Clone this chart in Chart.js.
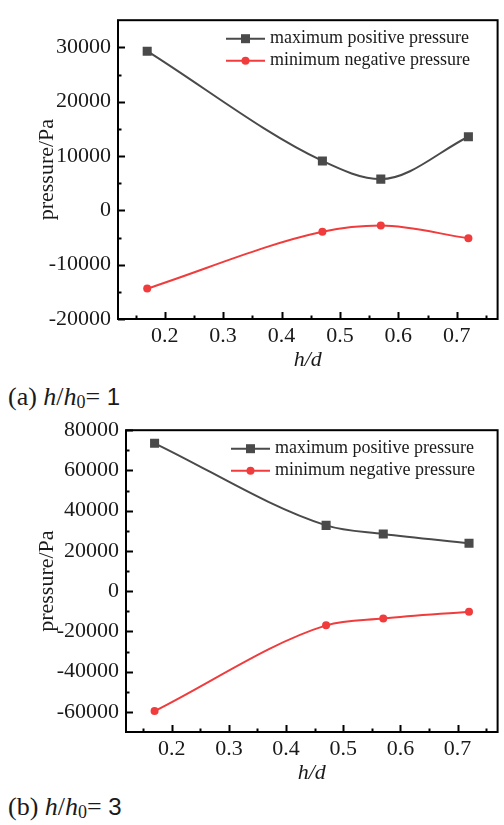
<!DOCTYPE html>
<html lang="en">
<head>
<meta charset="UTF-8">
<script src="https://cdn.jsdelivr.net/npm/chart.js"></script>
<title>pressure vs h/d</title>
<style>
    body { margin: 0; background: #fff; }
    #pagina { position: relative; width: 504px; height: 825px; overflow: hidden; }
    .caixa { position: absolute; left: 0; width: 504px; }
    .legenda_fig { position: absolute; left: 8px; font-family: "Liberation Serif", "Times New Roman", serif; font-size: 26px; line-height: 1; white-space: nowrap; color: #1a1a1a; }
    .legenda_fig i { font-style: italic; }
    .legenda_fig sub { font-size: 18px; vertical-align: -3px; }
    .legenda_fig .num { font-family: "Liberation Sans", Arial, sans-serif; font-size: 24px; }
</style>
</head>
<body>
<div id="pagina">
    <div class="caixa" style="top:0;height:373px"><canvas id="grafico1"></canvas></div>
    <div class="legenda_fig" style="top:384px">(a) <i>h</i>/<i>h</i><sub>0</sub>= <span class="num">1</span></div>
    <div class="caixa" style="top:410px;height:376px"><canvas id="grafico2"></canvas></div>
    <div class="legenda_fig" style="top:794px">(b) <i>h</i>/<i>h</i><sub>0</sub>= <span class="num">3</span></div>
</div>

<script>
    // h/d values (same for both panels)
    var hd = [0.17, 0.47, 0.57, 0.72];
    var xTicks = [0.2, 0.3, 0.4, 0.5, 0.6, 0.7];

    // panel (a) h/h0 = 1
    var maxPos1 = [29300, 9100, 5750, 13550];
    var minNeg1 = [-14400, -3950, -2800, -5150];
    var yTicks1 = [-20000, -10000, 0, 10000, 20000, 30000];

    // panel (b) h/h0 = 3
    var maxPos2 = [73500, 32700, 28400, 23800];
    var minNeg2 = [-59600, -17000, -13600, -10200];
    var yTicks2 = [-60000, -40000, -20000, 0, 20000, 40000, 60000, 80000];

    var nomes = ['maximum positive pressure', 'minimum negative pressure'];
    var cores = ['#4a4a4a', '#f03c3c'];
    var marcadores = ['rect', 'circle'];

    var serif = '"Liberation Serif", "Times New Roman", serif';

    // frame, inward ticks and legend drawn on top of the chart
    var moldura = {
        id: 'moldura',
        afterDraw: function (chart, args, opts) {
            var ctx = chart.ctx;
            var a = chart.chartArea;
            var x = chart.scales.x;
            var y = chart.scales.y;
            ctx.save();
            ctx.strokeStyle = '#000';
            ctx.lineWidth = 2;

            // x ticks (inward, from the bottom axis)
            for (var v = opts.xMin; v <= opts.xMax + 1e-9; v += opts.xMinor) {
                var px = Math.round(x.getPixelForValue(v)) + 0.5;
                var major = Math.abs(v / opts.xMajor - Math.round(v / opts.xMajor)) < 1e-6;
                ctx.beginPath();
                ctx.moveTo(px, a.bottom);
                ctx.lineTo(px, a.bottom - (major ? 7 : 3.5));
                ctx.stroke();
            }
            // y ticks (inward, from the left axis)
            for (var w = opts.yMin; w <= opts.yMax + 1e-9; w += opts.yMinor) {
                var py = Math.round(y.getPixelForValue(w)) + 0.5;
                var majorY = Math.abs(w / opts.yMajor - Math.round(w / opts.yMajor)) < 1e-6;
                ctx.beginPath();
                ctx.moveTo(a.left, py);
                ctx.lineTo(a.left + (majorY ? 7 : 3.5), py);
                ctx.stroke();
            }
            ctx.strokeRect(a.left, a.top, a.right - a.left, a.bottom - a.top);

            // legend
            ctx.font = '18px ' + serif;
            ctx.textBaseline = 'middle';
            ctx.textAlign = 'left';
            chart.data.datasets.forEach(function (ds, i) {
                var ly = a.top + opts.legTop + i * 22;
                var lx = a.left + opts.legLeft;
                ctx.strokeStyle = ds.borderColor;
                ctx.lineWidth = 2;
                ctx.beginPath();
                ctx.moveTo(lx, ly);
                ctx.lineTo(lx + 39, ly);
                ctx.stroke();
                ctx.fillStyle = ds.pointBackgroundColor;
                if (ds.pointStyle === 'rect') {
                    ctx.fillRect(lx + 19.5 - 4.5, ly - 4.5, 9, 9);
                } else {
                    ctx.beginPath();
                    ctx.arc(lx + 19.5, ly, 4, 0, Math.PI * 2);
                    ctx.fill();
                }
                ctx.fillStyle = '#1a1a1a';
                ctx.fillText(ds.label, lx + 44, ly);
            });
            ctx.restore();
        }
    };

    function serie(i, valores) {
        return {
            label: nomes[i],
            data: hd.map(function (h, k) { return { x: h, y: valores[k] }; }),
            borderColor: cores[i],
            backgroundColor: cores[i],
            pointBackgroundColor: cores[i],
            pointBorderColor: cores[i],
            pointStyle: marcadores[i],
            pointRadius: i == 0 ? 6.4 : 4,
            pointBorderWidth: 0,
            borderWidth: 2,
            cubicInterpolationMode: 'monotone'
        };
    }

    function criarGrafico(id, pos, neg, yTicks, cfg) {
        return new Chart(document.getElementById(id), {
            type: 'scatter',
            data: { datasets: [serie(0, pos), serie(1, neg)] },
            options: {
                responsive: true,
                maintainAspectRatio: false,
                animation: false,
                showLine: true,
                layout: { padding: { top: cfg.padTop, right: 2, left: 0, bottom: 0 } },
                plugins: {
                    legend: { display: false },
                    tooltip: { enabled: false },
                    moldura: cfg.moldura
                },
                scales: {
                    x: {
                        type: 'linear',
                        min: 0.12, max: 0.77,
                        afterBuildTicks: function (s) {
                            s.ticks = xTicks.map(function (v) { return { value: v }; });
                        },
                        afterFit: function (s) { s.height = cfg.xAltura; },
                        grid: { display: false, drawTicks: false },
                        border: { display: false },
                        ticks: {
                            padding: 4,
                            color: '#1a1a1a', font: { family: serif, size: 22 },
                            callback: function (v) { return v.toFixed(1); }
                        },
                        title: {
                            display: true, text: 'h/d', color: '#1a1a1a',
                            font: { family: serif, size: 22, style: 'italic' },
                            padding: { top: 0, bottom: 0 }
                        }
                    },
                    y: {
                        min: cfg.yMin, max: cfg.yMax,
                        afterBuildTicks: function (s) {
                            s.ticks = yTicks.map(function (v) { return { value: v }; });
                        },
                        afterFit: function (s) { s.width = cfg.yLargura; },
                        grid: { display: false, drawTicks: false },
                        border: { display: false },
                        ticks: {
                            padding: 7, autoSkip: false,
                            color: '#1a1a1a', font: { family: serif, size: 22 },
                            callback: function (v) { return String(v); }
                        },
                        title: {
                            display: true, text: 'pressure/Pa', color: '#1a1a1a',
                            font: { family: serif, size: 22 },
                            padding: { top: 34, bottom: 0 }
                        }
                    }
                }
            },
            plugins: [moldura]
        });
    }

    criarGrafico('grafico1', maxPos1, minNeg1, yTicks1, {
        padTop: 9, xAltura: 54, yLargura: 118,
        yMin: -20000, yMax: 35000,
        moldura: { xMin: 0.15, xMax: 0.75, xMinor: 0.05, xMajor: 0.1,
                   yMin: -20000, yMax: 30000, yMinor: 5000, yMajor: 10000,
                   legTop: 18.5, legLeft: 108 }
    });

    criarGrafico('grafico2', maxPos2, minNeg2, yTicks2, {
        padTop: 16, xAltura: 54, yLargura: 126,
        yMin: -70000, yMax: 80000,
        moldura: { xMin: 0.15, xMax: 0.75, xMinor: 0.05, xMajor: 0.1,
                   yMin: -60000, yMax: 80000, yMinor: 10000, yMajor: 20000,
                   legTop: 18.5, legLeft: 105 }
    });
</script>
</body>
</html>
